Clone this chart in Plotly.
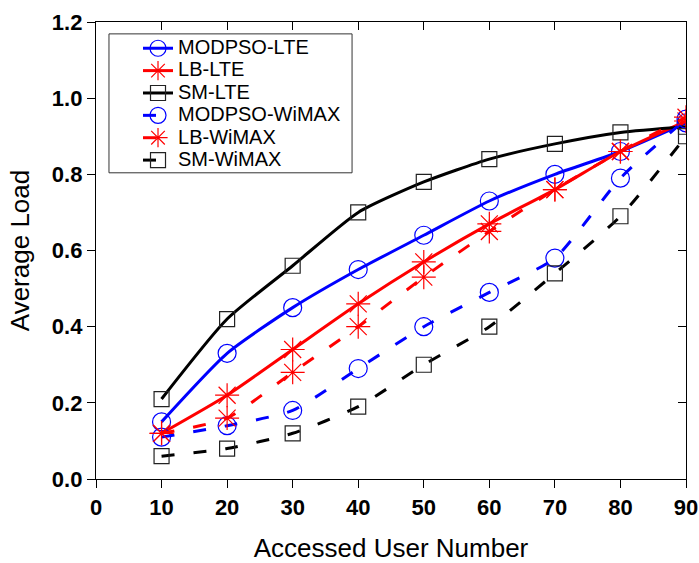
import plotly.graph_objects as go

users = [10, 20, 30, 40, 50, 60, 70, 80, 90]
modpso_lte = [0.15, 0.33, 0.45, 0.55, 0.64, 0.73, 0.80, 0.86, 0.935]
lb_lte = [0.12, 0.22, 0.34, 0.46, 0.57, 0.67, 0.76, 0.86, 0.94]
sm_lte = [0.21, 0.42, 0.56, 0.70, 0.78, 0.84, 0.88, 0.91, 0.925]
modpso_wimax = [0.11, 0.14, 0.18, 0.29, 0.40, 0.49, 0.58, 0.79, 0.945]
lb_wimax = [0.12, 0.16, 0.28, 0.40, 0.53, 0.65, 0.76, 0.86, 0.95]
sm_wimax = [0.06, 0.08, 0.12, 0.19, 0.30, 0.40, 0.54, 0.69, 0.90]

x_ticks = [0, 10, 20, 30, 40, 50, 60, 70, 80, 90]
y_ticks = [0.0, 0.2, 0.4, 0.6, 0.8, 1.0, 1.2]

DASH = "13px,19px"
series = [
    ("MODPSO-LTE", modpso_lte, "#0000ff", "solid", "circle-open"),
    ("LB-LTE", lb_lte, "#ff0000", "solid", "asterisk-open"),
    ("SM-LTE", sm_lte, "#000000", "solid", "square-open"),
    ("MODPSO-WiMAX", modpso_wimax, "#0000ff", DASH, "circle-open"),
    ("LB-WiMAX", lb_wimax, "#ff0000", DASH, "asterisk-open"),
    ("SM-WiMAX", sm_wimax, "#000000", DASH, "square-open"),
]
sizes = {"circle-open": 18, "square-open": 15, "asterisk-open": 20}

FONT = "Liberation Sans, Arial, sans-serif"
fig = go.Figure()
for name, vals, color, dash, sym in series:
    mcolor = "#222222" if color == "#000000" else color
    fig.add_trace(go.Scatter(
        x=users, y=vals, mode="lines+markers",
        name='<span style="font-size:20px">' + name + "</span>",
        line=dict(color=color, width=3, dash=dash, shape="spline", smoothing=0.6),
        marker=dict(symbol=sym, size=sizes[sym], color=mcolor, line=dict(width=1.2, color=mcolor)),
    ))

tickfont = dict(family=FONT, size=22, color="black", weight="bold")
titlefont = dict(family=FONT, size=26, color="black")

fig.update_layout(
    width=699, height=563,
    margin=dict(l=96, r=13, t=22, b=84),
    plot_bgcolor="white", paper_bgcolor="white",
    showlegend=True,
    legend=dict(
        x=0.0712, y=0.978, xanchor="left", yanchor="top",
        borderwidth=0, bgcolor="rgba(0,0,0,0)",
        font=dict(family=FONT, size=14.9, color="black"),
        tracegroupgap=0, itemwidth=30,
    ),
    shapes=[dict(
        type="rect", xref="paper", yref="paper",
        x0=0.022, x1=0.434, y0=0.670, y1=0.974,
        line=dict(color="#333333", width=1), fillcolor="rgba(0,0,0,0)", layer="above",
    )],
    xaxis=dict(
        range=[0, 90], tickvals=x_ticks, ticks="outside", ticklen=8, tickwidth=1.3,
        tickcolor="black", showline=True, linecolor="black", linewidth=1.3,
        showgrid=False, zeroline=False, tickfont=tickfont, automargin=False,
        title=dict(text="Accessed User Number", font=titlefont, standoff=23),
    ),
    yaxis=dict(
        range=[0, 1.2], tickvals=y_ticks, tickformat=".1f", ticks="outside", ticklen=8,
        tickwidth=1.3, tickcolor="black", showline=True, linecolor="black", linewidth=1.3,
        showgrid=False, zeroline=False, tickfont=tickfont, automargin=False,
        title=dict(text="Average Load", font=titlefont, standoff=14),
    ),
    xaxis2=dict(
        range=[0, 90], tickvals=x_ticks, ticks="inside", ticklen=8, tickwidth=1.3,
        tickcolor="black", showline=True, linecolor="black", linewidth=1.3,
        showgrid=False, zeroline=False, showticklabels=False, automargin=False,
        overlaying="x", side="top",
    ),
    yaxis2=dict(
        range=[0, 1.2], tickvals=y_ticks, ticks="inside", ticklen=8, tickwidth=1.3,
        tickcolor="black", showline=True, linecolor="black", linewidth=1.3,
        showgrid=False, zeroline=False, showticklabels=False, automargin=False,
        overlaying="y", side="right",
    ),
)
# invisible trace to activate the mirrored (frame) axes
fig.add_trace(go.Scatter(x=[None], y=[None], xaxis="x2", yaxis="y2", showlegend=False, hoverinfo="skip"))

fig.write_html("out.html", config={"displayModeBar": False},
               post_script="document.body.style.margin='0';")
